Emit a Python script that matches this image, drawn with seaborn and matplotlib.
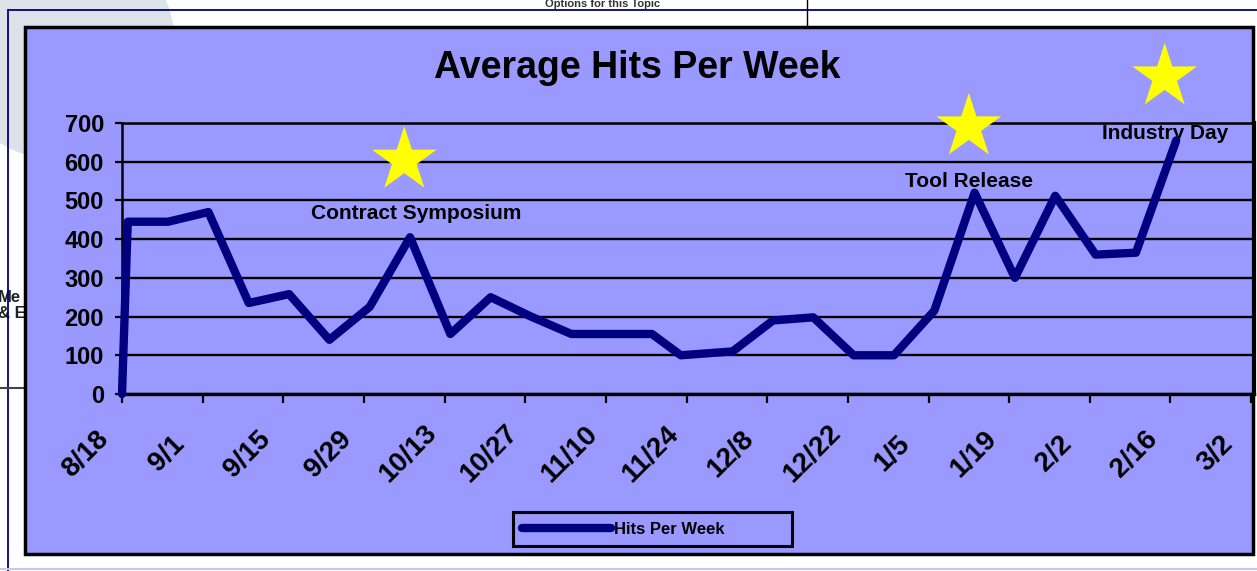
import numpy as np
import pandas as pd
import matplotlib
matplotlib.use("Agg")
import matplotlib.pyplot as plt
import seaborn as sns
from matplotlib.lines import Line2D
from matplotlib.patches import Rectangle, Ellipse
from matplotlib.transforms import ScaledTranslation

# ---------------- data ----------------
week_dates = ["2002-08-18", "2002-08-19", "2002-08-26", "2002-09-02", "2002-09-09",
              "2002-09-16", "2002-09-23", "2002-09-30", "2002-10-07", "2002-10-14",
              "2002-10-21", "2002-10-28", "2002-11-04", "2002-11-11", "2002-11-18",
              "2002-11-23", "2002-12-02", "2002-12-09", "2002-12-16", "2002-12-23",
              "2002-12-30", "2003-01-06", "2003-01-13", "2003-01-20", "2003-01-27",
              "2003-02-03", "2003-02-10", "2003-02-17"]
hits = [0, 445, 445, 470, 235, 258, 140, 225, 405, 155,
        250, 200, 155, 155, 155, 100, 110, 190, 198, 100,
        100, 215, 520, 300, 512, 360, 365, 655]

tick_dates = ["2002-08-18", "2002-09-01", "2002-09-15", "2002-09-29", "2002-10-13",
              "2002-10-27", "2002-11-10", "2002-11-24", "2002-12-08", "2002-12-22",
              "2003-01-05", "2003-01-19", "2003-02-02", "2003-02-16", "2003-03-02"]
tick_labels = ["8/18", "9/1", "9/15", "9/29", "10/13", "10/27", "11/10", "11/24",
               "12/8", "12/22", "1/5", "1/19", "2/2", "2/16", "3/2"]
y_ticks = [0, 100, 200, 300, 400, 500, 600, 700]

event_names = ["Contract Symposium", "Tool Release", "Industry Day"]
event_label_dates = ["2002-10-08", "2003-01-12", "2003-02-15"]
event_label_values = [465, 550, 674]
star_dates = ["2002-10-06", "2003-01-12", "2003-02-15"]
star_values = [604, 690, 819]

series_name = "Hits Per Week"
title = "Average Hits Per Week"

# ---------------- style ----------------
W, H = 1257, 571
sns.set_theme(style="white")
plt.rcParams['font.family'] = ['Liberation Sans', 'DejaVu Sans']
plt.rcParams['text.color'] = 'black'

LAV = '#9999FF'
NAVY = '#000080'

def fx(px):
    return px / W

def fy(py):
    return 1 - py / H

fig = plt.figure(figsize=(W / 100, H / 100), dpi=100)
fig.patch.set_facecolor('white')

# background remnants of the page
fig.add_artist(Ellipse((fx(60), fy(45)), 230 / W, 230 / H, transform=fig.transFigure,
                       facecolor='#DCE1EA', edgecolor='none', zorder=-3))
fig.text(fx(545), fy(4), "Options for this Topic", fontsize=8, fontweight='bold',
         color='#333333', ha='left', va='center', zorder=-2.5)
fig.text(fx(-2), fy(297), "Me", fontsize=12, fontweight='bold', color='#222222',
         ha='left', va='center', zorder=-2.5)
fig.text(fx(-2), fy(314), "& E", fontsize=12, fontweight='bold', color='#222222',
         ha='left', va='center', zorder=-2.5)
fig.add_artist(Line2D([fx(8), fx(1257)], [fy(10), fy(10)], transform=fig.transFigure,
                      color=NAVY, lw=1.3, zorder=-2))
fig.add_artist(Line2D([fx(8), fx(8)], [fy(10), fy(571)], transform=fig.transFigure,
                      color=NAVY, lw=1.3, zorder=-2))
fig.add_artist(Line2D([fx(807), fx(807)], [fy(0), fy(27)], transform=fig.transFigure,
                      color='black', lw=1.0, zorder=-2))
fig.add_artist(Line2D([fx(0), fx(25)], [fy(388), fy(388)], transform=fig.transFigure,
                      color='#444444', lw=1.5, zorder=-2))
fig.add_artist(Line2D([fx(0), fx(1257)], [fy(569), fy(569)], transform=fig.transFigure,
                      color='#C8C8EE', lw=1.5, zorder=-2))

# chart panel
fig.add_artist(Rectangle((fx(25), fy(554)), fx(1253) - fx(25), fy(27) - fy(554),
                         transform=fig.transFigure, facecolor=LAV, edgecolor='black',
                         lw=2.5, zorder=-1))

# ---------------- axes ----------------
ax = fig.add_axes([fx(122), fy(394), fx(1254) - fx(122), fy(123) - fy(394)])
ax.set_facecolor(LAV)

df = pd.DataFrame({"date": pd.to_datetime(week_dates), "hits": hits})
sns.lineplot(data=df, x="date", y="hits", ax=ax, color=NAVY, linewidth=6.0,
             legend=False, zorder=3)
for ln in ax.lines:
    ln.set_solid_joinstyle('round')
    ln.set_solid_capstyle('round')
    ln.set_clip_on(False)

ax.set_ylim(0, 700)
ax.set_xlim(pd.Timestamp("2002-08-18"), pd.Timestamp("2003-03-02 12:00"))
ax.set_yticks(y_ticks)
ax.set_yticklabels([str(v) for v in y_ticks], fontsize=17, fontweight='bold')
ax.set_xticks(pd.to_datetime(tick_dates))

ax.set_xlabel("")
ax.set_ylabel("")
ax.yaxis.grid(True, color='black', lw=1.7)
ax.xaxis.grid(False)
ax.set_axisbelow(True)
ax.tick_params(axis='y', left=True, direction='out', length=5, width=1.6,
               color='black', pad=8, labelcolor='black')
ax.tick_params(axis='x', bottom=True, direction='out', length=6.5, width=1.6,
               color='black', pad=0, labelcolor='black')
for side, lw in [('left', 1.8), ('bottom', 2.4), ('right', 3.0), ('top', 1.8)]:
    ax.spines[side].set_visible(True)
    ax.spines[side].set_color('black')
    ax.spines[side].set_linewidth(lw)

ax.set_xticklabels(tick_labels, rotation=45, ha='center', va='center',
                   rotation_mode='anchor', fontsize=20, fontweight='bold')
shift = ScaledTranslation(-36 / 100, -51 / 100, fig.dpi_scale_trans)
for tick in ax.xaxis.get_major_ticks():
    tick.label1.set_transform(tick.label1.get_transform() + shift)

# stars and event labels
ax.scatter(pd.to_datetime(star_dates), star_values, marker='*', s=2400,
           color='#FFFF00', edgecolors='none', clip_on=False, zorder=4)
for name, d, v in zip(event_names, event_label_dates, event_label_values):
    ax.text(pd.Timestamp(d), v, name, ha='center', va='center', fontsize=15,
            fontweight='bold', color='black', zorder=2.5, clip_on=False)

# title
fig.text(fx(637), fy(68), title, ha='center', va='center', fontsize=27,
         fontweight='bold', color='black')

# legend
handle = Line2D([], [], color=NAVY, lw=6.0, solid_capstyle='round')
leg = fig.legend(handles=[handle], labels=[series_name], loc='center',
                 bbox_to_anchor=(fx(513), fy(548), fx(792) - fx(513), fy(510) - fy(548)),
                 mode='expand', borderaxespad=0, frameon=True, fancybox=False,
                 shadow=False, edgecolor='black', facecolor=LAV, framealpha=1,
                 prop={'weight': 'bold', 'size': 12}, handlelength=5.3,
                 handletextpad=0.2, borderpad=0.55, labelcolor='black')
leg.get_frame().set_linewidth(2.2)

fig.savefig("out.png", dpi=100, facecolor='white')
